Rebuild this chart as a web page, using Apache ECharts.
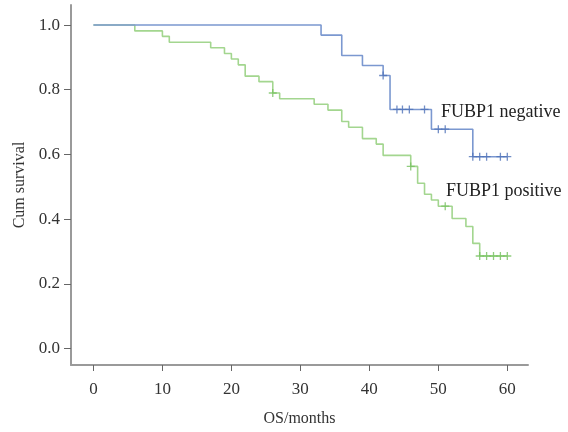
<!DOCTYPE html>
<html>
<head>
<meta charset="utf-8">
<script src="https://cdn.jsdelivr.net/npm/echarts@6/dist/echarts.min.js"></script>
<style>html,body{margin:0;padding:0;background:#fff}#c{width:568px;height:432px}</style>
</head>
<body>
<div id="c"></div>
<script>
// FUBP1 negative: step times (months) and survival after each step
var negTimes = [0, 33, 36, 39, 42, 43, 49, 55, 60];
var negSurv  = [1.0, 0.969, 0.906, 0.875, 0.844, 0.739, 0.678, 0.593, 0.593];
var negCensor = [42, 44, 44.8, 45.8, 48, 50, 51, 55, 56, 57, 59, 60];

// FUBP1 positive
var posTimes = [0, 6, 10, 11, 17, 19, 20, 21, 22, 24, 26, 27, 32, 34, 36, 37, 39, 41, 42, 46, 47, 48, 49, 50, 52, 54, 55, 56, 60];
var posSurv  = [1.0, 0.982, 0.965, 0.947, 0.930, 0.912, 0.895, 0.877, 0.842, 0.825, 0.790, 0.772, 0.755, 0.737, 0.702, 0.684, 0.649, 0.632, 0.597, 0.563, 0.511, 0.477, 0.459, 0.440, 0.402, 0.377, 0.325, 0.286, 0.286];
var posCensor = [26, 46, 51, 56, 57, 58, 59, 60];

var xTicks = [0, 10, 20, 30, 40, 50, 60];
var yTicks = [0, 0.2, 0.4, 0.6, 0.8, 1.0];

var seriesNames = ['FUBP1 negative', 'FUBP1 positive'];

function pairs(t, s) { return t.map(function (v, i) { return [v, s[i]]; }); }
function lookup(t, s, x) {
  var v = s[0];
  for (var i = 0; i < t.length; i++) { if (x >= t[i]) v = s[i]; }
  return v;
}
function censorPts(c, t, s) { return c.map(function (x) { return [x, lookup(t, s, x)]; }); }

var FONT = '"Liberation Serif", "DejaVu Serif", serif';
var plus = 'path://M0,-5L0,5M-5,0L5,0';
var blue = '#7b98d0', blueDark = '#4f72b8';
var green = '#a3d68f', greenDark = '#74c05e';

var chart = echarts.init(document.getElementById('c'), null, {renderer: 'canvas'});
chart.setOption({
  animation: false,
  backgroundColor: '#fff',
  grid: {left: 71, right: 40, top: 5, bottom: 67},
  xAxis: {
    type: 'value', min: -3.25, max: 63.0,
    name: 'OS/months', nameLocation: 'middle', nameGap: 46,
    nameTextStyle: {fontFamily: FONT, fontSize: 16, color: '#333'},
    axisLine: {show: true, onZero: false, lineStyle: {color: '#9a9a9a', width: 2}},
    axisTick: {show: true, length: 6, customValues: xTicks, lineStyle: {color: '#666', width: 1}},
    axisLabel: {customValues: xTicks, margin: 16, fontFamily: FONT, fontSize: 17, color: '#333'},
    splitLine: {show: false}
  },
  yAxis: {
    type: 'value', min: -0.051, max: 1.062,
    name: 'Cum survival', nameLocation: 'middle', nameGap: 43, nameRotate: 90,
    nameTextStyle: {fontFamily: FONT, fontSize: 16, color: '#333'},
    axisLine: {show: true, onZero: false, lineStyle: {color: '#9a9a9a', width: 2}},
    axisTick: {show: true, length: 7, customValues: yTicks, lineStyle: {color: '#666', width: 1}},
    axisLabel: {customValues: yTicks, margin: 11, fontFamily: FONT, fontSize: 17, color: '#333',
      formatter: function (v) { return v.toFixed(1); }},
    splitLine: {show: false}
  },
  series: [
    {name: seriesNames[0], type: 'line', step: 'end', data: pairs(negTimes, negSurv),
      showSymbol: false, lineStyle: {color: blue, width: 1.6}, z: 3},
    {name: seriesNames[1], type: 'line', step: 'end', data: pairs(posTimes, posSurv),
      showSymbol: false, lineStyle: {color: green, width: 1.6}, z: 2},
    {type: 'scatter', data: censorPts(negCensor, negTimes, negSurv), symbol: plus, symbolSize: 8,
      itemStyle: {color: 'rgba(0,0,0,0)', borderColor: blueDark, borderWidth: 1.3}, z: 4},
    {type: 'scatter', data: censorPts(posCensor, posTimes, posSurv), symbol: plus, symbolSize: 8,
      itemStyle: {color: 'rgba(0,0,0,0)', borderColor: greenDark, borderWidth: 1.3}, z: 4}
  ],
  graphic: [
    {type: 'text', left: 441, top: 103, style: {text: seriesNames[0], font: '18px ' + FONT, fill: '#222'}},
    {type: 'text', left: 446, top: 182, style: {text: seriesNames[1], font: '18px ' + FONT, fill: '#222'}}
  ]
});
</script>
</body>
</html>
